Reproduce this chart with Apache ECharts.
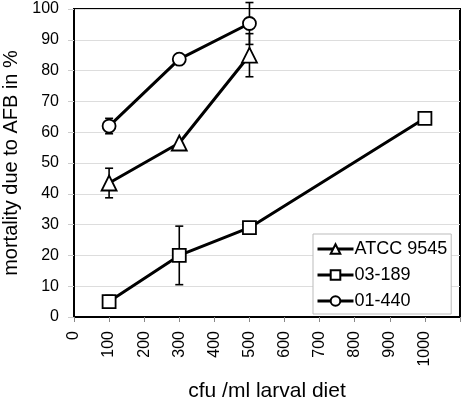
<!DOCTYPE html>
<html><head><meta charset="utf-8">
<script src="https://cdn.jsdelivr.net/npm/echarts@6/dist/echarts.min.js"></script>
<style>html,body{margin:0;padding:0;background:#fff}#c{width:462px;height:400px}</style>
</head><body><div id="c"></div>
<script>
const seriesNames = ['ATCC 9545', '03-189', '01-440'];
const atccX = [100, 300, 500];
const atccY = [43.5, 56.5, 85];
const atccErr = [4.8, 0, 7];
const s03X = [100, 300, 500, 1000];
const s03Y = [5, 20, 29, 64.5];
const s03Err = [2, 9.5, 1, 0];
const s01X = [100, 300, 500];
const s01Y = [62, 83.7, 95.3];
const s01Err = [2.5, 0, 6.8];
const xTicks = [0,100,200,300,400,500,600,700,800,900,1000];
const symbols = ['triangle', 'rect', 'circle'];

const xs = [atccX, s03X, s01X], ys = [atccY, s03Y, s01Y], errs = [atccErr, s03Err, s01Err];
const font = 'Liberation Sans, Arial, sans-serif';
const chart = echarts.init(document.getElementById('c'), null, {renderer: 'canvas'});

const series = [];
const errData = [];
seriesNames.forEach((n, i) => {
  series.push({
    name: n, type: 'line', data: xs[i].map((x, j) => [x, ys[i][j]]),
    symbol: symbols[i], symbolSize: symbols[i] === 'triangle' ? 15 : 13,
    lineStyle: {color: '#000', width: 3},
    itemStyle: {color: '#fff', borderColor: '#000', borderWidth: 1.8},
    z: 3, animation: false
  });
  xs[i].forEach((x, j) => { if (errs[i][j] > 0) errData.push([x, ys[i][j] - errs[i][j], ys[i][j] + errs[i][j]]); });
});
series.unshift({
  type: 'custom', name: 'err', data: errData, z: 2, animation: false,
  renderItem: (params, api) => {
    const lo = api.coord([api.value(0), api.value(1)]);
    const hi = api.coord([api.value(0), api.value(2)]);
    const w = 4;
    const st = {stroke: '#000', lineWidth: 1.6};
    return {type: 'group', children: [
      {type: 'line', shape: {x1: lo[0], y1: lo[1], x2: hi[0], y2: hi[1]}, style: st},
      {type: 'line', shape: {x1: lo[0]-w, y1: lo[1], x2: lo[0]+w, y2: lo[1]}, style: st},
      {type: 'line', shape: {x1: hi[0]-w, y1: hi[1], x2: hi[0]+w, y2: hi[1]}, style: st}
    ]};
  }
});

chart.setOption({
  animation: false,
  textStyle: {fontFamily: font},
  grid: {left: 74, right: 2, top: 9, bottom: 83, show: true, borderColor: '#000', borderWidth: 2,
    containLabel: false, outerBoundsMode: 'none'},
  legend: {
    data: seriesNames, orient: 'vertical', left: 313, top: 234, width: 144,
    backgroundColor: '#fff', borderColor: '#bbb', borderWidth: 1,
    padding: [6, 4, 4, 3], itemGap: 8, itemWidth: 36, itemHeight: 12,
    lineStyle: {width: 3, color: '#000'},
    textStyle: {fontSize: 18, color: '#000', fontFamily: font, padding: [0, 0, 0, -4]}
  },
  xAxis: {
    type: 'value', min: 0, max: 1100, interval: 100,
    name: 'cfu /ml larval diet', nameLocation: 'middle', nameGap: 64,
    nameTextStyle: {fontSize: 21, color: '#000', fontFamily: font},
    axisLine: {lineStyle: {color: '#000', width: 2}},
    axisTick: {show: true, length: 5, lineStyle: {color: '#888'}},
    axisLabel: {rotate: 90, fontSize: 16, color: '#000', margin: 14,
      formatter: v => xTicks.indexOf(v) >= 0 ? String(v) : ''},
    splitLine: {show: false}
  },
  yAxis: {
    type: 'value', min: 0, max: 100, interval: 10,
    name: 'mortality due to AFB in %', nameLocation: 'middle', nameGap: 50,
    nameTextStyle: {fontSize: 20, color: '#000', fontFamily: font},
    axisLine: {show: true, lineStyle: {color: '#000', width: 2}},
    axisTick: {show: true, length: 6, lineStyle: {color: '#ccc'}},
    axisLabel: {fontSize: 16, color: '#000', margin: 15},
    splitLine: {lineStyle: {color: '#ddd', width: 1}}
  },
  series: series
});
</script></body></html>
